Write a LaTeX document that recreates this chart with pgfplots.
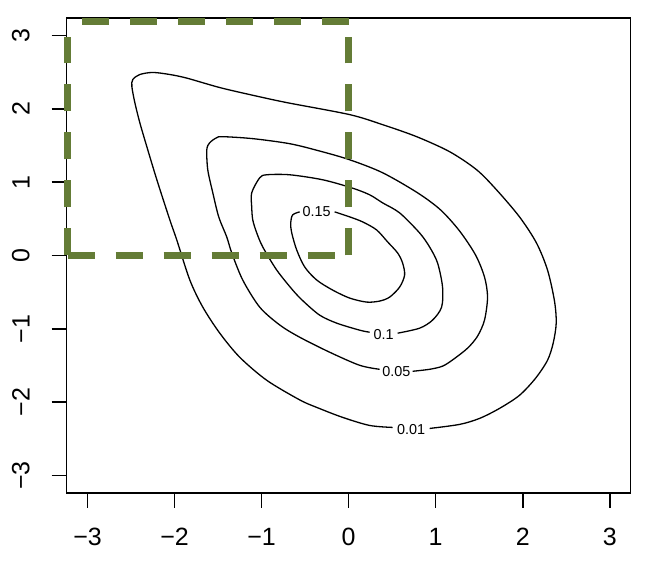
\documentclass[border=0pt]{standalone}
\usepackage{fontspec}
\setmainfont{Liberation Sans}
\usepackage{pgfplots}
\pgfplotsset{compat=1.18}
\usetikzlibrary{calc}
\definecolor{olivedash}{RGB}{100,124,54}

\begin{document}
\begin{tikzpicture}
\begin{axis}[
    scale only axis,
    width=282pt, height=237.5pt,
    xmin=-3.24, xmax=3.24,
    ymin=-3.24, ymax=3.24,
    xtick={-3,-2,-1,0,1,2,3},
    ytick={-3,-2,-1,0,1,2,3},
    xticklabels={−3,−2,−1,0,1,2,3},
    yticklabels={−3,−2,−1,0,1,2,3},
    xtick pos=bottom, ytick pos=left,
    tick align=outside,
    major tick length=7.5pt,
    axis line style={line width=0.8pt},
    every tick/.style={black, line width=0.8pt},
    ticklabel style={font=\fontsize{12.5}{15}\selectfont},
    xticklabel style={yshift=-6.5pt},
    yticklabel style={rotate=90, anchor=south, yshift=7.5pt},
    clip=false,
]
% contour 0.01
\addplot[black, line width=0.65pt, smooth] coordinates {
 (0.930,-2.360) (1.274,-2.305) (1.504,-2.223) (1.734,-2.086) (1.963,-1.908)
 (2.147,-1.676) (2.285,-1.430) (2.350,-1.197) (2.385,-0.923) (2.365,-0.620)
 (2.285,-0.198) (2.158,0.171) (1.963,0.527) (1.699,0.896) (1.470,1.170)
 (1.160,1.416) (0.781,1.621) (0.390,1.785) (0.011,1.922) (-0.712,2.086)
 (-1.102,2.186) (-1.481,2.291) (-1.860,2.420) (-2.055,2.469) (-2.250,2.497)
 (-2.400,2.469) (-2.480,2.401) (-2.491,2.305) (-2.457,2.086) (-2.400,1.813)
 (-2.319,1.484) (-2.204,1.033) (-2.055,0.486) (-1.975,0.212) (-1.825,-0.335)
 (-1.676,-0.705) (-1.481,-1.060) (-1.251,-1.389) (-0.941,-1.703) (-0.563,-1.970)
 (-0.367,-2.073) (-0.069,-2.209) (0.241,-2.319) (0.505,-2.346)
};
% contour 0.05
\addplot[black, line width=0.65pt, smooth] coordinates {
 (0.735,-1.580) (0.930,-1.553) (1.079,-1.510) (1.200,-1.420) (1.366,-1.265)
 (1.481,-1.101) (1.561,-0.882) (1.596,-0.568) (1.561,-0.294) (1.458,0.007)
 (1.274,0.335) (1.056,0.622) (0.792,0.855) (0.390,1.129) (0.011,1.306)
 (-0.333,1.425) (-0.677,1.525) (-1.102,1.594) (-1.447,1.621) (-1.516,1.607)
 (-1.596,1.539) (-1.630,1.443) (-1.619,1.170) (-1.561,0.855) (-1.493,0.527)
 (-1.401,0.253) (-1.343,0.034) (-1.217,-0.335) (-1.022,-0.705) (-0.790,-0.950)
 (-0.563,-1.115) (-0.218,-1.320) (0.126,-1.498) (0.356,-1.553)
};
% contour 0.1
\addplot[black, line width=0.65pt, smooth] coordinates {
 (0.563,-1.060) (0.815,-0.992) (0.964,-0.882) (1.068,-0.705) (1.079,-0.431)
 (1.022,-0.103) (0.930,0.116) (0.815,0.308) (0.586,0.581) (0.390,0.718)
 (0.241,0.828) (0.034,0.923) (-0.299,1.033) (-0.677,1.101) (-0.941,1.101)
 (-1.022,1.060) (-1.114,0.855) (-1.114,0.663) (-1.102,0.486) (-1.056,0.308)
 (-0.987,0.116) (-0.827,-0.198) (-0.643,-0.472) (-0.520,-0.625) (-0.333,-0.814)
 (-0.138,-0.923) (0.126,-1.019) (0.241,-1.047)
};
% contour 0.15
\addplot[black, line width=0.65pt, smooth] coordinates {
 (-0.161,0.595) (0.011,0.527) (0.161,0.458) (0.321,0.349) (0.448,0.185)
 (0.563,0.034) (0.620,-0.103) (0.643,-0.267) (0.586,-0.431) (0.471,-0.568)
 (0.356,-0.622) (0.207,-0.636) (0.011,-0.581) (-0.184,-0.472) (-0.367,-0.335)
 (-0.505,-0.157) (-0.597,0.075) (-0.654,0.308) (-0.666,0.445) (-0.643,0.554)
 (-0.563,0.595)
};
% contour labels
\node[font=\fontsize{7.2}{8}\selectfont, inner sep=0pt] at (axis cs:-0.367,0.595) {0.15};
\node[font=\fontsize{7.2}{8}\selectfont, inner sep=0pt] at (axis cs:0.402,-1.080) {0.1};
\node[font=\fontsize{7.2}{8}\selectfont, inner sep=0pt] at (axis cs:0.548,-1.585) {0.05};
\node[font=\fontsize{7.2}{8}\selectfont, inner sep=0pt] at (axis cs:0.718,-2.380) {0.01};
% dashed rectangle
\addplot[olivedash, line width=3.3pt, dash pattern=on 13.5pt off 10.5pt] coordinates {(-3.23,0) (0,0)};
\addplot[olivedash, line width=3.3pt, dash pattern=on 13.5pt off 10.5pt] coordinates {(-3.23,0) (-3.23,3.19)};
\addplot[olivedash, line width=3.3pt, dash pattern=on 13.5pt off 10.5pt] coordinates {(0,0) (0,3.19)};
\addplot[olivedash, line width=3.3pt, dash pattern=on 13.5pt off 10.5pt] coordinates {(0,3.19) (-3.23,3.19)};
\coordinate (sw) at (rel axis cs:0,0);
\coordinate (ne) at (rel axis cs:1,1);
\end{axis}
\pgfresetboundingbox
\path (sw) ++(-33.35pt,-39.15pt) rectangle ($(ne)+(14.7pt,9pt)$);
\end{tikzpicture}
\end{document}
